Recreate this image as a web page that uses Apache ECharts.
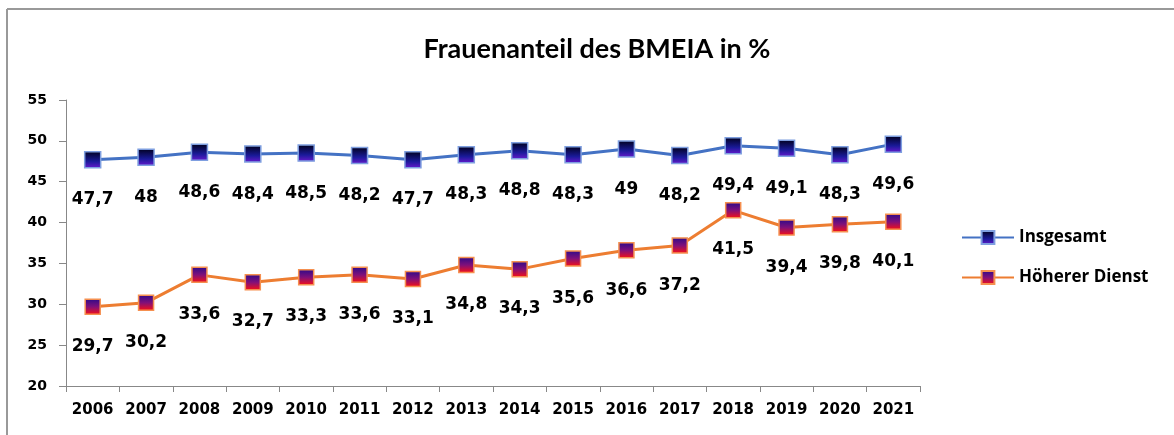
<!DOCTYPE html>
<html><head><meta charset="utf-8">
<script src="https://cdn.jsdelivr.net/npm/echarts@6/dist/echarts.min.js"></script>
<style>html,body{margin:0;padding:0;background:#fff}#c{width:1174px;height:435px}</style>
</head><body><div id="c"></div>
<script>
const years = ['2006','2007','2008','2009','2010','2011','2012','2013','2014','2015','2016','2017','2018','2019','2020','2021'];
const insgesamt = [47.7,48,48.6,48.4,48.5,48.2,47.7,48.3,48.8,48.3,49,48.2,49.4,49.1,48.3,49.6];
const hoehererDienst = [29.7,30.2,33.6,32.7,33.3,33.6,33.1,34.8,34.3,35.6,36.6,37.2,41.5,39.4,39.8,40.1];
const yTicks = [20,25,30,35,40,45,50,55];

const NUMFONT = 'DejaVu Sans';
const chart = echarts.init(document.getElementById('c'), null, {renderer:'canvas'});
const fmt = p => String(p.value).replace('.', ',');
const blueFill = new echarts.graphic.LinearGradient(0,0,0,1,[{offset:0,color:'#00001a'},{offset:0.6,color:'#1a1a9a'},{offset:1,color:'#6a1ad0'}]);
const orangeFill = new echarts.graphic.LinearGradient(0,0,0,1,[{offset:0,color:'#2a0a8a'},{offset:0.5,color:'#80107a'},{offset:1,color:'#ff1010'}]);
const lbl = {show:true,position:'bottom',distance:23,formatter:fmt,fontFamily:NUMFONT,fontSize:17,fontWeight:'bold',color:'#000'};
chart.setOption({
  animation:false,
  title:{text:'Frauenanteil des BMEIA in %',left:592,top:31,textAlign:'center',
    textStyle:{fontFamily:'Lato',fontSize:27,fontWeight:'bold',color:'#000'}},
  graphic:[
    {type:'line',shape:{x1:7,y1:9,x2:1174,y2:9},style:{stroke:'#999',lineWidth:2}},
    {type:'line',shape:{x1:7,y1:9,x2:7,y2:435},style:{stroke:'#999',lineWidth:2}}
  ],
  legend:{orient:'vertical',left:956,top:224,itemGap:23,itemWidth:52,itemHeight:16,
    textStyle:{fontFamily:'Open Sans',fontSize:17,fontWeight:'bold',color:'#000'},
    data:['Insgesamt','Höherer Dienst']},
  grid:{left:66,right:254,top:100,bottom:49},
  xAxis:{type:'category',data:years,boundaryGap:true,
    axisLine:{lineStyle:{color:'#888',width:1}},
    axisTick:{show:true,interval:0,length:6,lineStyle:{color:'#888'}},
    axisLabel:{interval:0,fontFamily:NUMFONT,fontSize:15,fontWeight:'bold',color:'#000',margin:17}},
  yAxis:{type:'value',min:20,max:55,interval:5,
    axisLine:{show:true,lineStyle:{color:'#888',width:1}},
    axisTick:{show:true,length:7,lineStyle:{color:'#888'}},
    splitLine:{show:false},
    axisLabel:{fontFamily:NUMFONT,fontSize:14,fontWeight:'bold',color:'#000',margin:19,
      formatter:v=>yTicks.includes(v)?String(v):''}},
  series:[
    {name:'Insgesamt',type:'line',data:insgesamt,symbol:'rect',symbolSize:16,
     lineStyle:{color:'#4472C4',width:3},
     itemStyle:{color:blueFill,borderColor:'#7f9fe0',borderWidth:1.5},
     label:lbl},
    {name:'Höherer Dienst',type:'line',data:hoehererDienst,symbol:'rect',symbolSize:15,
     lineStyle:{color:'#ED7D31',width:3},
     itemStyle:{color:orangeFill,borderColor:'#f59050',borderWidth:1.5},
     label:lbl}
  ]
});
</script></body></html>
